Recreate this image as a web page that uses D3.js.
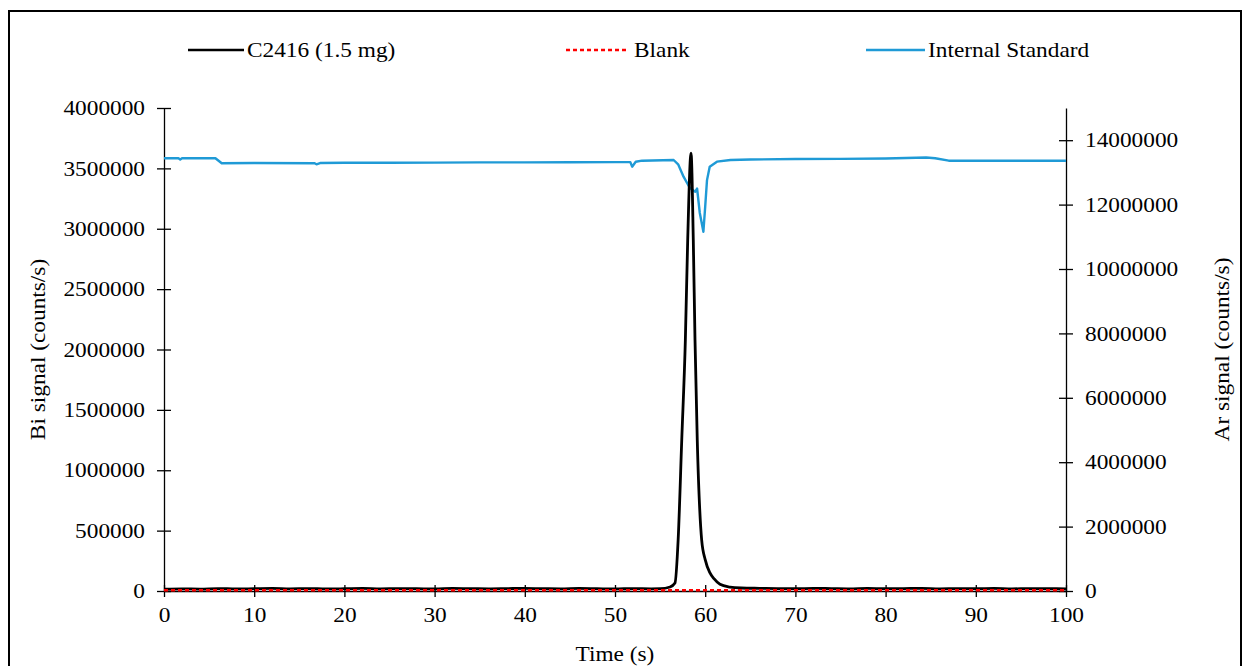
<!DOCTYPE html>
<html>
<head>
<meta charset="utf-8">
<script src="https://cdn.jsdelivr.net/npm/d3@7"></script>
<style>
  html, body { margin: 0; padding: 0; background: #fff; }
  svg text { font-family: "Liberation Serif", "Times New Roman", serif; fill: #000; }
</style>
</head>
<body>
<svg id="chart" width="1251" height="666"></svg>
<script>
// Bi signal of sample C2416 (1.5 mg), counts/s, left axis
const sampleTime = [0, 2, 4, 6, 8, 10, 12, 14, 16, 18, 20, 22, 24, 26, 28, 30, 32, 34, 36, 38, 40, 42, 44, 46, 48, 50, 52, 54, 55, 56.1, 56.65, 57.0, 57.4, 57.8, 58.06, 58.43, 58.68, 58.87, 59.12, 59.61, 60.0, 60.53, 61.0, 61.64, 62.75, 64, 66, 68, 70, 72, 74, 76, 78, 80, 82, 84, 86, 88, 90, 92, 94, 96, 98, 100];
const sampleBi = [15000, 18000, 16000, 20000, 17000, 19000, 21000, 18000, 20000, 17000, 19000, 22000, 18000, 20000, 19000, 17000, 21000, 19000, 18000, 20000, 22000, 19000, 18000, 21000, 19000, 17000, 20000, 18000, 19000, 33000, 66000, 422000, 1251000, 2079000, 2907000, 3627000, 2907000, 2079000, 1251000, 422000, 260000, 150000, 100000, 55000, 33000, 25000, 22000, 20000, 19000, 22000, 20000, 18000, 21000, 19000, 20000, 22000, 18000, 20000, 19000, 21000, 18000, 20000, 19000, 18000];

// Blank run, counts/s, left axis
const blankTime = [0, 10, 20, 30, 40, 50, 60, 70, 80, 90, 100];
const blankBi = [6000, 6500, 5800, 6200, 6000, 6400, 5900, 6100, 6300, 6000, 6200];

// Ar internal standard, counts/s, right axis
const istdTime = [0, 1.6, 1.8, 2.0, 5.7, 6.4, 10, 16.7, 16.9, 17.3, 20, 25, 30, 35, 40, 45, 50, 51.7, 51.9, 52.3, 53, 56.5, 57.0, 57.6, 58.3, 58.9, 59.1, 59.4, 59.8, 60.0, 60.2, 60.5, 61.3, 62.8, 65, 70, 75, 80, 84.5, 85.5, 87, 90, 95, 100];
const istdAr = [13440000, 13440000, 13400000, 13440000, 13440000, 13283000, 13290000, 13283000, 13252000, 13290000, 13300000, 13302000, 13305000, 13310000, 13310000, 13315000, 13320000, 13320000, 13178000, 13330000, 13364000, 13385000, 13250000, 12867000, 12516000, 12401000, 12500000, 11739000, 11158000, 11935000, 12760000, 13177000, 13333000, 13385000, 13400000, 13416000, 13420000, 13430000, 13463000, 13440000, 13364000, 13364000, 13364000, 13364000];

// Axis ticks
const timeTicks = [0, 10, 20, 30, 40, 50, 60, 70, 80, 90, 100];
const biTicks = [0, 500000, 1000000, 1500000, 2000000, 2500000, 3000000, 3500000, 4000000];
const arTicks = [0, 2000000, 4000000, 6000000, 8000000, 10000000, 12000000, 14000000];

// Legend entries
const seriesNames = ["C2416 (1.5 mg)", "Blank", "Internal Standard"];

const svg = d3.select("#chart");
const plot = { left: 164, right: 1066, top: 108, bottom: 591 };
const fontSize = 21;
const textStretch = 1.11; // glyphs are drawn slightly wider than the font's natural width

// Outer frame
svg.append("rect")
  .attr("x", 9).attr("y", 11).attr("width", 1232).attr("height", 680)
  .attr("fill", "none").attr("stroke", "#000").attr("stroke-width", 2);

const x = d3.scaleLinear().domain([0, 100]).range([plot.left, plot.right]);
const yBi = d3.scaleLinear().domain([0, 4000000]).range([plot.bottom, plot.top]);
const yAr = d3.scaleLinear().domain([0, 15000000]).range([plot.bottom, plot.top]);

function styleAxis(g) {
  g.select(".domain").attr("stroke", "#000").attr("stroke-width", 1.3);
  g.selectAll(".tick line").attr("stroke", "#000").attr("stroke-width", 1.3);
  g.selectAll(".tick text").style("font-size", fontSize + "px")
    .style("font-family", '"Liberation Serif", "Times New Roman", serif');
}

// Axes; tick marks cross the axis line
const xAxisG = svg.append("g").attr("transform", `translate(0,${plot.bottom})`)
  .call(d3.axisBottom(x).tickValues(timeTicks).tickSizeInner(6).tickSizeOuter(0).tickPadding(10).tickFormat(d3.format("d")));
xAxisG.selectAll(".tick line").attr("y1", -6);
styleAxis(xAxisG);

const yLeftG = svg.append("g").attr("transform", `translate(${plot.left},0)`)
  .call(d3.axisLeft(yBi).tickValues(biTicks).tickSizeInner(7).tickSizeOuter(0).tickPadding(12).tickFormat(d3.format("d")));
yLeftG.selectAll(".tick line").attr("x1", 7);
styleAxis(yLeftG);

const yRightG = svg.append("g").attr("transform", `translate(${plot.right},0)`)
  .call(d3.axisRight(yAr).tickValues(arTicks).tickSizeInner(7).tickSizeOuter(0).tickPadding(12).tickFormat(d3.format("d")));
yRightG.selectAll(".tick line").attr("x1", -7);
styleAxis(yRightG);

// Series lines
const lineBi = d3.line().x(d => x(d[0])).y(d => yBi(d[1])).curve(d3.curveMonotoneX);
const lineAr = d3.line().x(d => x(d[0])).y(d => yAr(d[1]));

svg.append("path")
  .datum(istdTime.map((t, i) => [t, istdAr[i]]))
  .attr("d", lineAr).attr("fill", "none").attr("stroke", "#1f9ad6").attr("stroke-width", 2.4)
  .attr("stroke-linejoin", "round");

svg.append("path")
  .datum(sampleTime.map((t, i) => [t, sampleBi[i]]))
  .attr("d", lineBi).attr("fill", "none").attr("stroke", "#000").attr("stroke-width", 2.8)
  .attr("stroke-linejoin", "round");

svg.append("path")
  .datum(blankTime.map((t, i) => [t, blankBi[i]]))
  .attr("d", lineBi).attr("fill", "none").attr("stroke", "#ff0000").attr("stroke-width", 2.4)
  .attr("stroke-dasharray", "4,3");

// Axis titles
svg.append("text").attr("x", (plot.left + plot.right) / 2).attr("y", 661)
  .attr("text-anchor", "middle").style("font-size", fontSize + "px").text("Time (s)");
svg.append("text").attr("transform", `translate(45,${(plot.top + plot.bottom) / 2}) rotate(-90)`)
  .attr("text-anchor", "middle").style("font-size", fontSize + "px").text("Bi signal (counts/s)");
svg.append("text").attr("transform", `translate(1229,${(plot.top + plot.bottom) / 2}) rotate(-90)`)
  .attr("text-anchor", "middle").style("font-size", fontSize + "px").text("Ar signal (counts/s)");

// Legend
const legendItems = [
  { name: seriesNames[0], x0: 188, x1: 244, color: "#000", dash: null },
  { name: seriesNames[1], x0: 566, x1: 626, color: "#ff0000", dash: "4,3" },
  { name: seriesNames[2], x0: 866, x1: 925, color: "#1f9ad6", dash: null }
];
const legend = svg.append("g");
legendItems.forEach(it => {
  legend.append("line").attr("x1", it.x0).attr("x2", it.x1).attr("y1", 50).attr("y2", 50)
    .attr("stroke", it.color).attr("stroke-width", 2.6).attr("stroke-dasharray", it.dash);
  legend.append("text").attr("x", it.x1 + (it.dash ? 8 : 3)).attr("y", 57)
    .style("font-size", fontSize + "px").text(it.name);
});

// Widen every label a little
svg.selectAll("text").each(function () {
  const w = this.getComputedTextLength();
  d3.select(this).attr("textLength", (w * textStretch).toFixed(1)).attr("lengthAdjust", "spacingAndGlyphs");
});
</script>
</body>
</html>
